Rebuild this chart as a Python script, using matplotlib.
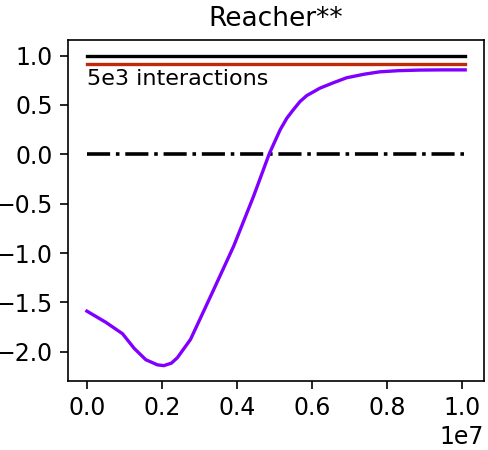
import matplotlib
matplotlib.use("Agg")
import matplotlib.pyplot as plt
import numpy as np

# learning curve (normalised score) vs interactions
steps = [0.0, 0.05e7, 0.095e7, 0.126e7, 0.157e7, 0.188e7, 0.205e7, 0.225e7,
         0.241e7, 0.276e7, 0.303e7, 0.338e7, 0.391e7, 0.444e7, 0.486e7,
         0.515e7, 0.533e7, 0.550e7, 0.568e7, 0.586e7, 0.621e7, 0.657e7,
         0.692e7, 0.740e7, 0.780e7, 0.830e7, 0.887e7, 0.950e7, 1.008e7]
score = [-1.588, -1.70, -1.817, -1.965, -2.08, -2.132, -2.14, -2.115,
         -2.06, -1.875, -1.655, -1.369, -0.931, -0.426, 0.006,
         0.249, 0.367, 0.451, 0.535, 0.595, 0.67, 0.725,
         0.775, 0.812, 0.835, 0.847, 0.853, 0.855, 0.855]

x_end = 1.008e7
expert = 1.0
baseline = 0.91
zero = 0.0

fig = plt.figure(figsize=(4.89, 4.5), dpi=100)
ax = fig.add_axes([0.139, 0.153, 0.851, 0.758])

ax.plot([0, x_end], [expert, expert], color="black", lw=2.4)
ax.plot([0, x_end], [baseline, baseline], color="#c02a0a", lw=2.4)
ax.plot([0, x_end], [zero, zero], color="black", lw=2.6, ls="-.")
ax.plot(steps, score, color="#8000ff", lw=2.4)

ax.text(0, 0.7, "5e3 interactions", fontsize=16)
ax.set_title("Reacher**", fontsize=19, pad=10)
ax.set_xticks([0, 0.2e7, 0.4e7, 0.6e7, 0.8e7, 1.0e7])
ax.set_yticks([1.0, 0.5, 0.0, -0.5, -1.0, -1.5, -2.0])
ax.tick_params(labelsize=17, length=6, width=1.2, pad=5)
ax.xaxis.get_offset_text().set_fontsize(17)
for s in ax.spines.values():
    s.set_linewidth(1.2)

fig.savefig("out.png", dpi=100)
